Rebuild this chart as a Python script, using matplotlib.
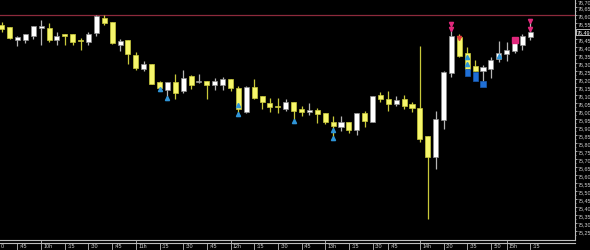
import numpy as np
import matplotlib
matplotlib.use('Agg')
import matplotlib.pyplot as plt
import matplotlib.transforms as mtransforms
from matplotlib.lines import Line2D

# 5-minute candles
opens = [76.538, 76.523, 76.446, 76.446, 76.467, 76.517, 76.521, 76.446, 76.481, 76.481,
         76.446, 76.433, 76.486, 76.581, 76.554, 76.414, 76.442, 76.352, 76.263, 76.292,
         76.179, 76.133, 76.179, 76.125, 76.219, 76.180, 76.189, 76.163, 76.163, 76.200,
         76.142, 75.992, 76.150, 76.096, 76.048, 76.033, 76.013, 76.058, 76.013, 75.996,
         76.006, 75.985, 75.929, 75.902, 75.929, 75.883, 75.988, 75.933, 76.100, 76.075,
         76.044, 76.075, 76.044, 76.017, 75.842, 75.711, 75.946, 76.236, 76.460, 76.360,
         76.283, 76.248, 76.263, 76.325, 76.356, 76.377, 76.414, 76.464]
highs = [76.558, 76.523, 76.471, 76.481, 76.533, 76.571, 76.550, 76.492, 76.481, 76.481,
         76.456, 76.492, 76.600, 76.600, 76.554, 76.450, 76.442, 76.367, 76.310, 76.292,
         76.185, 76.179, 76.229, 76.258, 76.228, 76.231, 76.189, 76.204, 76.210, 76.200,
         76.154, 76.158, 76.200, 76.096, 76.079, 76.079, 76.075, 76.058, 76.029, 76.050,
         76.017, 75.985, 75.967, 75.967, 75.929, 75.988, 76.002, 76.096, 76.117, 76.127,
         76.096, 76.100, 76.058, 76.408, 75.842, 75.998, 76.252, 76.544, 76.480, 76.398,
         76.319, 76.289, 76.339, 76.439, 76.429, 76.430, 76.481, 76.564]
lows = [76.492, 76.450, 76.408, 76.425, 76.450, 76.414, 76.429, 76.414, 76.414, 76.414,
        76.383, 76.410, 76.467, 76.538, 76.417, 76.373, 76.294, 76.256, 76.252, 76.167,
        76.140, 76.075, 76.075, 76.113, 76.138, 76.175, 76.075, 76.133, 76.133, 76.125,
        75.980, 75.988, 76.075, 76.013, 75.992, 75.988, 76.002, 75.946, 75.971, 75.975,
        75.925, 75.919, 75.831, 75.877, 75.863, 75.850, 75.898, 75.933, 76.054, 76.002,
        76.033, 76.013, 75.992, 75.806, 75.325, 75.638, 75.888, 76.210, 76.335, 76.260,
        76.250, 76.189, 76.206, 76.304, 76.311, 76.360, 76.381, 76.444]
closes = [76.513, 76.454, 76.461, 76.481, 76.529, 76.529, 76.446, 76.471, 76.471, 76.433,
          76.438, 76.483, 76.592, 76.548, 76.423, 76.440, 76.356, 76.269, 76.292, 76.171,
          76.142, 76.179, 76.113, 76.208, 76.163, 76.190, 76.163, 76.189, 76.200, 76.142,
          76.013, 76.148, 76.083, 76.054, 76.023, 76.023, 76.058, 76.002, 75.992, 76.008,
          75.981, 75.933, 75.908, 75.929, 75.881, 75.988, 75.935, 76.096, 76.075, 76.044,
          76.069, 76.033, 76.017, 75.825, 75.711, 75.950, 76.242, 76.471, 76.346, 76.263,
          76.252, 76.273, 76.319, 76.360, 76.381, 76.423, 76.471, 76.492]

time_ticks = [-1, 2, 5, 8, 11, 14, 17, 20, 23, 26, 29, 32, 35, 38, 41, 44, 47, 49,
              53, 56, 59, 62, 64, 67]
time_labels = ['0', ':45', '10h', ':15', ':30', ':45', '11h', ':15', ':30', ':45',
               '12h', ':15', ':30', ':45', '13h', ':15', ':30', ':45',
               '14h', ':20', ':35', ':50', '15h', ':15']

price_ticks = [76.70, 76.65, 76.60, 76.55, 76.45, 76.40, 76.35, 76.30, 76.25, 76.20,
               76.15, 76.10, 76.05, 76.00, 75.95, 75.90, 75.85, 75.80, 75.75, 75.70,
               75.65, 75.60, 75.55, 75.50, 75.45, 75.40, 75.35, 75.30, 75.25]
last_price = 76.494
last_price_text = '76,49'
ref_level = 76.60

# signal arrows
buy_idx = [20, 21, 30, 30, 37, 42, 42, 59, 59, 63]
buy_price = [76.138, 76.081, 76.038, 75.981, 75.938, 75.883, 75.831, 76.339, 76.294, 76.346]
sell_idx = [57, 57, 67, 67]
sell_price = [76.544, 76.513, 76.564, 76.513]
sell_box_idx = [65]
sell_box_price = [76.446]
red_idx = [58]
red_price = [76.456]
blue_box_idx = [59, 60, 61]
blue_box_top = [76.263, 76.242, 76.189]
blue_box_bot = [76.221, 76.189, 76.148]

W, H = 590, 251
fig = plt.figure(figsize=(W / 100, H / 100), dpi=100, facecolor='black')
ax = fig.add_axes([0, 10 / H, 575 / W, 241 / H], facecolor='black')

o = np.array(opens); h = np.array(highs); l = np.array(lows); c = np.array(closes)
x = np.arange(len(o))
up = c >= o

ax.vlines(x[up], l[up], h[up], color='#b4b4b4', lw=0.9, zorder=2)
ax.vlines(x[~up], l[~up], h[~up], color='#c8c83a', lw=0.9, zorder=2)

minh = 0.008
bh = np.abs(c - o)
bot = np.minimum(o, c) - np.clip(minh - bh, 0, None) / 2
bh = np.maximum(bh, minh)
ax.bar(x[up], bh[up], bottom=bot[up], width=0.64, color='white',
       edgecolor='#8c8c8c', lw=0.5, zorder=3)
ax.bar(x[~up], bh[~up], bottom=bot[~up], width=0.64, color='#f6f66c',
       edgecolor='#c8c83a', lw=0.5, zorder=3)

# blue signal bodies
bb_top = np.array(blue_box_top); bb_bot = np.array(blue_box_bot)
ax.bar(blue_box_idx, bb_top - bb_bot, bottom=bb_bot, width=0.64, color='#1f6fd6',
       edgecolor='#1a5cb0', lw=0.5, zorder=3)

ax.plot(buy_idx, buy_price, ls='none', marker='^', ms=3, color='#2f95d8', zorder=4)
ax.plot(sell_idx, sell_price, ls='none', marker='v', ms=3, color='#e0287c', zorder=4)
ax.plot(sell_box_idx, sell_box_price, ls='none', marker='s', ms=4, color='#e0287c', zorder=4)
ax.plot(red_idx, red_price, ls='none', marker='v', ms=3, color='#e03a3a', zorder=4)

ax.axhline(ref_level, color='#8c2a3c', lw=0.9, zorder=1)

ax.set_xlim(-0.215, 72.66)
ax.set_ylim(75.194, 76.70)

for s in ['top', 'left']:
    ax.spines[s].set_visible(False)
for s in ['right', 'bottom']:
    ax.spines[s].set_color('#bdbdbd')
    ax.spines[s].set_linewidth(0.8)

fam = 'Liberation Sans'
fs = 3.9
ax.yaxis.tick_right()
ax.set_yticks(price_ticks)
ax.set_yticklabels([f'{p:.2f}'.replace('.', ',') for p in price_ticks],
                   fontsize=fs, color='#d0d0d0', family=fam)
ax.get_yticklabels()[0].set_verticalalignment('top')
ax.set_yticks(np.arange(75.225, 76.70, 0.025), minor=True)
ax.tick_params(axis='y', which='major', colors='#bdbdbd', labelcolor='#d0d0d0',
               length=1.3, width=0.6, pad=0.3)
ax.tick_params(axis='y', which='minor', colors='#bdbdbd', length=0.8, width=0.5)
ax.set_xticks([])

ax.text(1.0025, last_price, last_price_text, transform=ax.get_yaxis_transform(),
        fontsize=fs, color='white', family=fam, va='center', ha='left',
        bbox=dict(boxstyle='square,pad=0.12', fc='black', ec='white', lw=0.5))

# second line under the chart and time scale
yl = 1 - 243.5 / H
fig.add_artist(Line2D([0, 575 / W], [yl, yl], color='#bdbdbd', lw=0.8))
tr = mtransforms.blended_transform_factory(ax.transData, fig.transFigure)
for t, lab in zip(time_ticks, time_labels):
    long_tick = lab.endswith('h')
    y0 = 1 - (241 if long_tick else 243.5) / H
    ax.add_line(Line2D([t, t], [y0, 1 - 250 / H], transform=tr, color='#bdbdbd',
                       lw=0.6, clip_on=False))
    xt = t + 0.3 if t >= 0 else -0.16
    ax.text(xt, 1 - 247 / H, lab, transform=tr, fontsize=fs, color='#d0d0d0',
            family=fam, va='center', ha='left', clip_on=False)

fig.savefig('out.png', dpi=100, facecolor='black')
